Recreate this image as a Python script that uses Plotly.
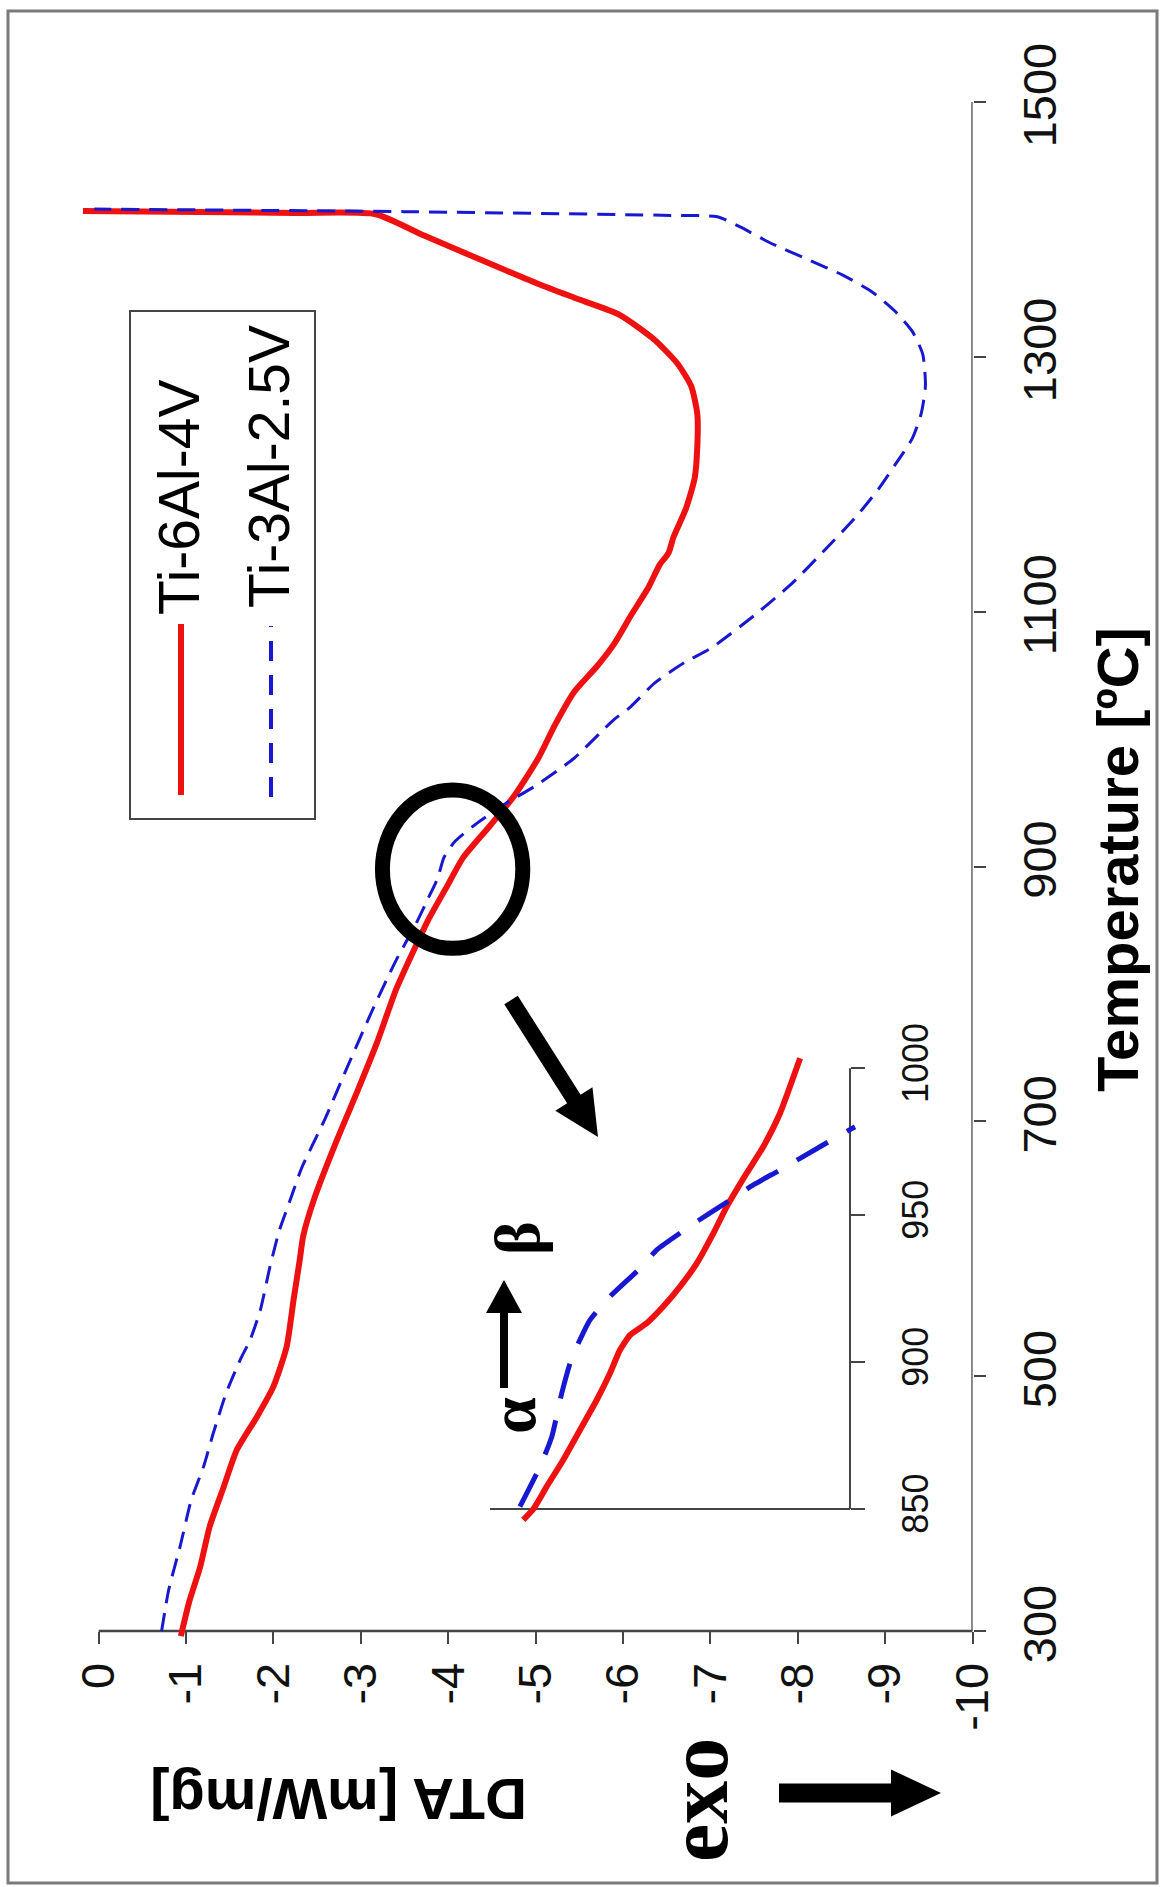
import math
import plotly.graph_objects as go

W, H = 1164, 1887

# ---------------- data ----------------
# main chart: temperature [ºC] and DTA [mW/mg]
red_temp = [296, 324, 350, 382, 413, 442, 468, 492, 523, 560, 591, 610, 638, 686, 722, 761, 803, 832,
            858, 885, 907, 933, 956, 985, 1011, 1037, 1057, 1075, 1097, 1119, 1137, 1146, 1159, 1181,
            1205, 1230, 1255, 1277, 1295, 1314, 1333, 1345, 1357, 1376, 1395, 1412, 1413, 1414.5]
red_dta = [-0.94, -1.04, -1.16, -1.27, -1.43, -1.58, -1.81, -2.00, -2.15, -2.23, -2.30, -2.34, -2.46,
           -2.73, -2.95, -3.18, -3.40, -3.59, -3.77, -3.99, -4.17, -4.49, -4.76, -5.03, -5.22, -5.44,
           -5.70, -5.90, -6.09, -6.29, -6.42, -6.52, -6.58, -6.72, -6.82, -6.85, -6.85, -6.78, -6.62,
           -6.35, -5.96, -5.50, -5.04, -4.38, -3.73, -3.17, -2.25, 0.18]

blue_temp = [300, 332, 366, 403, 429, 455, 487, 513, 528, 552, 586, 615, 638, 663, 702, 745, 787, 826,
             855, 875, 891, 907, 920, 933, 950, 963, 985, 1015, 1025, 1044, 1060, 1072, 1097, 1122,
             1150, 1174, 1196, 1215, 1236, 1255, 1277, 1302, 1320, 1336, 1351, 1364, 1376, 1390, 1402,
             1410, 1411, 1414, 1416]
blue_dta = [-0.72, -0.80, -0.93, -1.06, -1.20, -1.31, -1.46, -1.62, -1.73, -1.85, -1.96, -2.07, -2.19,
            -2.32, -2.59, -2.86, -3.13, -3.40, -3.63, -3.77, -3.88, -3.95, -4.08, -4.31, -4.67, -4.99,
            -5.44, -5.89, -6.08, -6.36, -6.70, -7.02, -7.50, -7.93, -8.33, -8.66, -8.92, -9.11, -9.31,
            -9.41, -9.46, -9.43, -9.31, -9.11, -8.85, -8.52, -8.13, -7.67, -7.34, -7.08, -6.60, -3.50, 0.05]

# inset (850-1000 ºC, magnified)
inset_red_temp = [846.3, 850.0, 857.6, 866.7, 876.9, 887.1, 896.2, 904.1, 909.2, 913.2, 918.9, 925.7,
                  933.6, 943.8, 952.9, 964.3, 973.3, 984.7, 1003.4]
inset_red_dta = [-3.657, -3.712, -3.784, -3.874, -3.965, -4.056, -4.128, -4.182, -4.237, -4.327, -4.417,
                 -4.508, -4.599, -4.689, -4.762, -4.870, -4.960, -5.051, -5.160]
inset_blue_temp = [850.8, 864.4, 874.6, 889.4, 901.3, 914.3, 922.3, 931.9, 938.2, 947.8, 952.9, 960.3,
                   965.4, 973.3, 980.1]
inset_blue_dta = [-3.639, -3.748, -3.812, -3.866, -3.920, -4.019, -4.128, -4.291, -4.382, -4.599, -4.725,
                  -4.906, -5.051, -5.268, -5.458]

dta_ticks = [0, -1, -2, -3, -4, -5, -6, -7, -8, -9, -10]
temp_ticks = [300, 500, 700, 900, 1100, 1300, 1500]
inset_temp_ticks = [850, 900, 950, 1000]

series_names = ["Ti-6Al-4V", "Ti-3Al-2.5V"]

# ---------------- layout geometry (pixels) ----------------
def px(x):
    return x / W

def py(y):
    return 1 - y / H

RED = "#EE1111"
BLUE = "#1818D0"
AX = "#454545"
SANS = "Liberation Sans, Arial, sans-serif"
SERIF = "Liberation Serif, Times New Roman, serif"

# main plot calibration
M_X0, M_XPU = 98.7, 87.39
M_Y300, M_YPD = 1631.0, 1.2741
main_xrange = [0.3, -10.0]
main_yrange = [290, 1500]
m_left = M_X0 - main_xrange[0] * M_XPU
m_right = M_X0 - main_xrange[1] * M_XPU
m_top = M_Y300 - (main_yrange[1] - 300) * M_YPD
m_bot = M_Y300 - (main_yrange[0] - 300) * M_YPD

# inset calibration
I_X0, I_D0, I_XPU = 533.0, -3.71, 184.2
I_Y850, I_YPD = 1509.0, 2.938
inset_xrange = [-3.45, -5.48]
inset_yrange = [844, 1008]
i_left = I_X0 + (I_D0 - inset_xrange[0]) * I_XPU
i_right = I_X0 + (I_D0 - inset_xrange[1]) * I_XPU
i_top = I_Y850 - (inset_yrange[1] - 850) * I_YPD
i_bot = I_Y850 - (inset_yrange[0] - 850) * I_YPD
I_AXIS_PX = 850.0
inset_axis_dta = I_D0 - (I_AXIS_PX - I_X0) / I_XPU
inset_left_dta = I_D0 - (490.0 - I_X0) / I_XPU

fig = go.Figure()

fig.add_trace(go.Scatter(x=red_dta, y=red_temp, mode="lines", name=series_names[0],
                         line=dict(color=RED, width=6, shape="spline", smoothing=0.6),
                         xaxis="x", yaxis="y"))
fig.add_trace(go.Scatter(x=blue_dta, y=blue_temp, mode="lines", name=series_names[1],
                         line=dict(color=BLUE, width=3, dash="18px,10px", shape="spline", smoothing=0.6),
                         xaxis="x", yaxis="y"))
fig.add_trace(go.Scatter(x=inset_red_dta, y=inset_red_temp, mode="lines", name=series_names[0],
                         line=dict(color=RED, width=6, shape="spline", smoothing=0.5),
                         xaxis="x2", yaxis="y2"))
fig.add_trace(go.Scatter(x=inset_blue_dta, y=inset_blue_temp, mode="lines", name=series_names[1],
                         line=dict(color=BLUE, width=5, dash="36px,22px", shape="spline", smoothing=0.5),
                         xaxis="x2", yaxis="y2"))

tickfont = dict(family=SANS, size=47, color="#111")

fig.update_layout(
    width=W, height=H, margin=dict(l=0, r=0, t=0, b=0),
    paper_bgcolor="white", plot_bgcolor="rgba(0,0,0,0)", showlegend=False,
    xaxis=dict(domain=[px(m_left), px(m_right)], range=main_xrange, anchor="free",
               position=py(M_Y300), showline=False, showgrid=False, zeroline=False,
               ticks="outside", ticklen=12, tickwidth=2, tickcolor=AX,
               tickvals=dta_ticks, ticktext=[str(v) for v in dta_ticks], tickangle=-90,
               tickfont=tickfont, automargin=False),
    yaxis=dict(domain=[py(m_bot), py(m_top)], range=main_yrange, anchor="x", side="right",
               showline=False, showgrid=False, zeroline=False,
               ticks="outside", ticklen=12, tickwidth=2, tickcolor=AX,
               tickvals=temp_ticks, ticktext=[str(v) for v in temp_ticks], tickangle=-90,
               tickfont=tickfont, automargin=False, ticklabelstandoff=14),
    xaxis2=dict(domain=[px(i_left), px(i_right)], range=inset_xrange, anchor="y2", visible=False),
    yaxis2=dict(domain=[py(i_bot), py(i_top)], range=inset_yrange, anchor="free",
                position=px(I_AXIS_PX), side="right", showline=False, showgrid=False,
                zeroline=False, ticks="outside", ticklen=14, tickwidth=2, tickcolor=AX,
                tickvals=inset_temp_ticks, ticktext=[str(v) for v in inset_temp_ticks],
                tickangle=-90, tickfont=dict(family=SANS, size=36, color="#111"),
                automargin=False, ticklabelstandoff=20),
)

shapes = []
# outer frame
shapes.append(dict(type="rect", xref="paper", yref="paper", x0=px(8), x1=px(1157), y0=py(1883),
                   y1=py(11), line=dict(color="#7a7a7a", width=3)))
# main axis lines
shapes.append(dict(type="line", xref="x", yref="y", x0=dta_ticks[0], x1=dta_ticks[-1],
                   y0=temp_ticks[0], y1=temp_ticks[0], line=dict(color=AX, width=2.5), layer="below"))
shapes.append(dict(type="line", xref="x", yref="y", x0=dta_ticks[-1], x1=dta_ticks[-1],
                   y0=temp_ticks[0], y1=temp_ticks[-1], line=dict(color=AX, width=2.5), layer="below"))
# inset axis lines
shapes.append(dict(type="line", xref="x2", yref="y2", x0=inset_left_dta, x1=inset_axis_dta,
                   y0=inset_temp_ticks[0], y1=inset_temp_ticks[0], line=dict(color=AX, width=2),
                   layer="below"))
shapes.append(dict(type="line", xref="x2", yref="y2", x0=inset_axis_dta, x1=inset_axis_dta,
                   y0=inset_temp_ticks[0], y1=inset_temp_ticks[-1], line=dict(color=AX, width=2),
                   layer="below"))
# legend box and samples
shapes.append(dict(type="rect", xref="paper", yref="paper", x0=px(130), x1=px(315), y0=py(819),
                   y1=py(311), line=dict(color=AX, width=2)))
shapes.append(dict(type="line", xref="paper", yref="paper", x0=px(181), x1=px(181), y0=py(795),
                   y1=py(624), line=dict(color=RED, width=6)))
shapes.append(dict(type="line", xref="paper", yref="paper", x0=px(271), x1=px(271), y0=py(797),
                   y1=py(626), line=dict(color=BLUE, width=4, dash="20px,14px")))
# ellipse marking the transition region
shapes.append(dict(type="circle", xref="x", yref="y", x0=-3.247, x1=-4.853, y0=835.8, y1=960.1,
                   line=dict(color="black", width=15)))


def arrow_path(tail, tip, shaft_half, head_half, head_len):
    dx, dy = tip[0] - tail[0], tip[1] - tail[1]
    L = math.hypot(dx, dy)
    ux, uy = dx / L, dy / L
    nx, ny = -uy, ux
    bx, by = tip[0] - head_len * ux, tip[1] - head_len * uy
    pts = [(tail[0] + shaft_half * nx, tail[1] + shaft_half * ny),
           (bx + shaft_half * nx, by + shaft_half * ny),
           (bx + head_half * nx, by + head_half * ny),
           tip,
           (bx - head_half * nx, by - head_half * ny),
           (bx - shaft_half * nx, by - shaft_half * ny),
           (tail[0] - shaft_half * nx, tail[1] - shaft_half * ny)]
    return "M " + " L ".join(f"{px(x):.5f},{py(y):.5f}" for x, y in pts) + " Z"


for tail, tip, sh, hh, hl in [((511, 1000), (598, 1137), 8, 22, 45),
                              ((504, 1388), (504, 1280), 4, 18, 33),
                              ((779, 1793), (941, 1793), 9.5, 23.5, 50)]:
    shapes.append(dict(type="path", xref="paper", yref="paper", path=arrow_path(tail, tip, sh, hh, hl),
                       fillcolor="black", line=dict(color="black", width=0)))

fig.update_layout(shapes=shapes)

ann = []
def add_text(text, x, y, size, angle, family=SANS, color="black"):
    ann.append(dict(text=text, x=px(x), y=py(y), xref="paper", yref="paper", showarrow=False,
                    xanchor="center", yanchor="middle", textangle=angle,
                    font=dict(family=family, size=size, color=color)))

add_text("<b>Temperature [ºC]</b>", 1117, 860, 58, -90)
add_text("<b>DTA [mW/mg]</b>", 339, 1800, 58, 180)
add_text("<b>exo</b>", 698, 1800, 86, -90, family=SERIF)
add_text("<b>α</b>", 512, 1416, 66, -90, family=SERIF)
add_text("<b>β</b>", 517, 1238, 64, -90, family=SERIF)
add_text(series_names[0], 179, 498, 57, -90)
add_text(series_names[1], 269, 467, 57, -90)
fig.update_layout(annotations=ann)

fig.write_html("out.html")
